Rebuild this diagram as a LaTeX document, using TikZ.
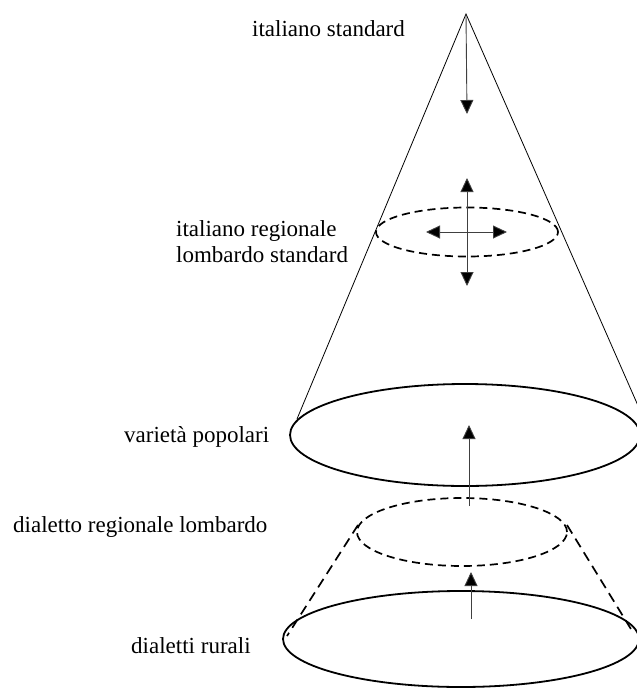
\documentclass[tikz,border=0pt]{standalone}
\usepackage{fontspec}
\setmainfont{Liberation Serif}
\usetikzlibrary{arrows.meta,shapes.geometric}
\begin{document}
\begin{tikzpicture}[x=1pt,y=-1pt,
  lbl/.style={anchor=base west,inner sep=0pt,font=\fontsize{23}{26}\selectfont,text=black},
  solidell/.style={ellipse,draw,line width=1.8pt,inner sep=0pt},
  dashell/.style={ellipse,draw,line width=1.7pt,dash pattern=on 8pt off 5pt,inner sep=0pt},
  coneline/.style={line width=0.8pt},
  dashside/.style={line width=1.7pt,dash pattern=on 10pt off 6pt},
  arr/.style={line width=0.9pt,draw=black!75,-{Triangle[length=14pt,width=13pt,fill=black]}},
  darr/.style={line width=0.9pt,draw=black!75,{Triangle[length=14pt,width=13pt,fill=black]}-{Triangle[length=14pt,width=13pt,fill=black]}}]
\useasboundingbox (0,0) rectangle (637,689);
\clip (0,0) rectangle (637,689);
% ellipses
\node[solidell,minimum width=350pt,minimum height=102pt] (top) at (465,435) {};
\node[dashell,minimum width=182pt,minimum height=49pt] (mid) at (467,232) {};
\node[dashell,minimum width=210pt,minimum height=68pt] (low) at (462,532) {};
\node[solidell,minimum width=356pt,minimum height=96pt] (bot) at (461,639) {};
% cone
\coordinate (apex) at (466,14);
\coordinate (coneL) at (297,419);
\coordinate (coneR) at (643,417);
\draw[coneline] (coneL) -- (apex) -- (coneR);
% dashed frustum sides
\coordinate (lowL) at (358,525);
\coordinate (lowR) at (567,525);
\coordinate (botL) at (287,636);
\coordinate (botR) at (634,634);
\draw[dashside] (lowL) -- (botL);
\draw[dashside] (lowR) -- (botR);
% arrows
\coordinate (a1e) at (467,114);
\draw[arr] (apex) -- (a1e);
\coordinate (vup) at (467,178);
\coordinate (vdn) at (467,286);
\coordinate (hl) at (426,232);
\coordinate (hr) at (507,232);
\draw[darr] (vdn) -- (vup);
\draw[darr] (hl) -- (hr);
\coordinate (a2s) at (469,506);
\coordinate (a2e) at (469,425);
\draw[arr] (a2s) -- (a2e);
\coordinate (a3s) at (471,619);
\coordinate (a3e) at (471,572);
\draw[arr] (a3s) -- (a3e);
% labels
\node[lbl] (t1) at (252,36) {italiano standard};
\node[lbl] (t2) at (176,236) {italiano regionale};
\node[lbl] (t3) at (176,262) {lombardo standard};
\node[lbl] (t4) at (124,442) {varietà popolari};
\node[lbl] (t5) at (13,532) {dialetto regionale lombardo};
\node[lbl] (t6) at (131,653) {dialetti rurali};
\end{tikzpicture}
\end{document}
